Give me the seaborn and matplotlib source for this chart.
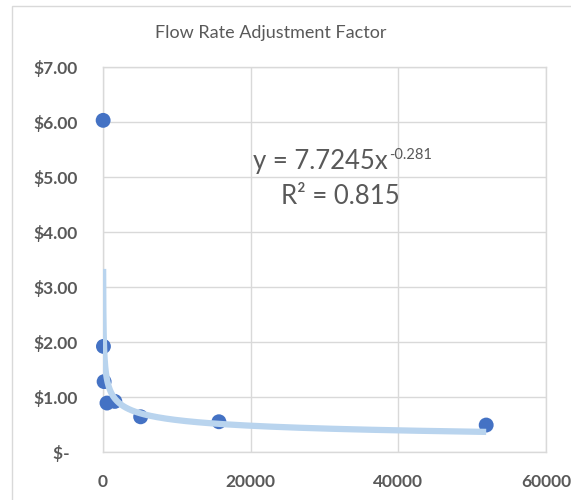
import matplotlib.pyplot as plt
import matplotlib.patches as patches
import numpy as np
import pandas as pd
import seaborn as sns

""" Data read off the chart """
flow_rate = [20, 60, 150, 540, 1600, 5100, 15700, 51900]
adjustment = [6.03, 1.92, 1.28, 0.89, 0.92, 0.64, 0.55, 0.49]
# power trendline as printed on the chart: y = a * x^b
trend_a = 7.7245
trend_b = -0.281
r_squared = 0.815
y_ticks = [0, 1, 2, 3, 4, 5, 6, 7]
y_tick_labels = ["$-  ", "$1.00", "$2.00", "$3.00", "$4.00", "$5.00", "$6.00", "$7.00"]
x_ticks = [0, 20000, 40000, 60000]
x_tick_labels = ["0", "20000", "40000", "60000"]

""" Parameter settings """
text_color = "#595959"
grid_color = "#D9D9D9"
marker_color = "#4472C4"
trend_color = "#B9D4EE"

sns.set_theme(style="white")
plt.rcParams["font.family"] = ["Lato", "DejaVu Sans"]

df = pd.DataFrame({"flow": flow_rate, "factor": adjustment})
trend_x = np.geomspace(min(flow_rate), max(flow_rate), 400)
trend = pd.DataFrame({"flow": trend_x, "factor": trend_a * trend_x ** trend_b})

fig = plt.figure(figsize=(5.71, 5.0), dpi=100)
ax = fig.add_axes([103 / 571, 48 / 500, 443 / 571, 385 / 500])

# chart frame
fig.patches.append(
    patches.Rectangle(
        (12 / 571, -0.1), 1.1, 1.088, transform=fig.transFigure,
        fill=False, edgecolor="#D9D9D9", linewidth=1,
    )
)

sns.scatterplot(
    data=df, x="flow", y="factor", ax=ax, color=marker_color,
    s=115, edgecolor="none", zorder=3, clip_on=False,
)
sns.lineplot(
    data=trend, x="flow", y="factor", ax=ax, color=trend_color,
    linewidth=4.5, zorder=4, solid_capstyle="butt",
)

ax.set(xlim=(0, 60000), ylim=(0, 7), xlabel="", ylabel="")
ax.set_xticks(x_ticks)
ax.set_xticklabels(x_tick_labels)
ax.set_yticks(y_ticks)
ax.set_yticklabels(y_tick_labels)
ax.tick_params(axis="both", length=0, labelsize=12.5, labelcolor=text_color)
ax.tick_params(axis="y", pad=18)
ax.tick_params(axis="x", pad=16)
for lbl in ax.get_xticklabels() + ax.get_yticklabels():
    lbl.set_fontweight("bold")
ax.grid(True, color=grid_color, linewidth=1)
ax.set_axisbelow(True)
for spine in ax.spines.values():
    spine.set_color(grid_color)
    spine.set_linewidth(1)

fig.text(271 / 571, 1 - 33 / 500, "Flow Rate Adjustment Factor",
         ha="center", va="center", fontsize=13, color=text_color)
# trendline label: main part and raised exponent
fig.text(388 / 571, 1 - 169 / 500, "y = {}x".format(trend_a),
         ha="right", va="baseline", fontsize=18.5, color=text_color)
fig.text(389 / 571, 1 - 159 / 500, str(trend_b),
         ha="left", va="baseline", fontsize=10.5, color=text_color)
fig.text(340 / 571, 1 - 197 / 500, "R\u00b2 = " + str(r_squared),
         ha="center", va="center", fontsize=18.5, color=text_color)

plt.savefig("out.png", dpi=100)
